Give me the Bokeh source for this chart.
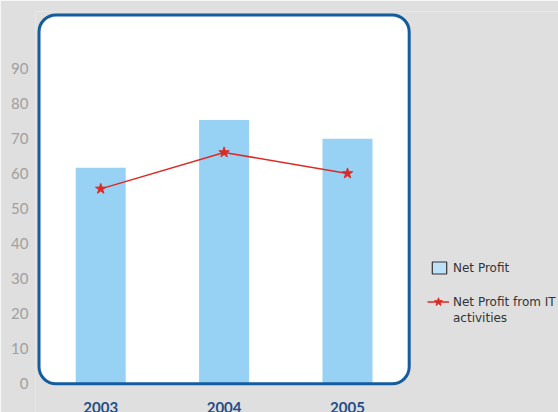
from bokeh.plotting import figure
from bokeh.models import (Range1d, FixedTicker, BoxAnnotation,
                          Legend, LegendItem, ColumnDataSource)
from bokeh.core.properties import value
from bokeh.embed import file_html
from bokeh.resources import INLINE

years = ["2003", "2004", "2005"]
net_profit = [61.7, 75.4, 70.0]
it_profit = [55.7, 66.1, 60.1]
y_ticks = [0, 10, 20, 30, 40, 50, 60, 70, 80, 90]
series_names = ["Net Profit", "Net Profit from IT", "activities"]

BG = "#dfdfdf"
BAR = "#97d1f3"
RED = "#dd2a25"
BORDER = "#155c9e"
PANEL_TOP = 105.4

xpos = [i + 0.5 for i in range(len(years))]
nan = float("nan")

p = figure(width=558, height=412, output_backend="svg", toolbar_location=None,
           x_range=Range1d(-0.0284, 4.21),
           y_range=Range1d(-8.2, 106.37),
           x_axis_location=None,
           min_border_left=35, min_border_right=0, min_border_top=11,
           min_border_bottom=0)
p.background_fill_color = BG
p.border_fill_color = BG
p.outline_line_color = None
p.grid.visible = False

# white rounded plot panel and its border
p.add_layout(BoxAnnotation(left=0, right=len(years), bottom=0, top=PANEL_TOP,
                           fill_color="white", fill_alpha=1,
                           line_color=None, border_radius=17, level="underlay"))
p.add_layout(BoxAnnotation(left=0, right=len(years), bottom=0, top=PANEL_TOP,
                           fill_alpha=0, fill_color=None,
                           line_color=BORDER, line_alpha=1, line_width=3,
                           border_radius=17, level="overlay"))

src = ColumnDataSource(dict(x=xpos, year=years, net=net_profit, it=it_profit))
bars = p.vbar(x="x", top="net", width=0.405, source=src, fill_color=BAR,
              line_color=None)
line = p.line(x="x", y="it", source=src, line_color=RED, line_width=1.5)
stars = p.scatter(x="x", y="it", source=src, marker="star", size=11,
                  fill_color=RED, line_color=RED)

# x labels as text under the panel
p.text(x="x", y=0, text="year", source=src, y_offset=18, text_baseline="top",
       text_align="center", text_font=value("Lato"), text_font_style="bold",
       text_font_size="15px", text_color="#1f4e86")

ax = p.yaxis[0]
ax.ticker = FixedTicker(ticks=y_ticks)
ax.axis_line_color = None
ax.major_tick_line_color = None
ax.minor_tick_line_color = None
ax.major_tick_out = 0
ax.major_tick_in = 0
ax.major_label_standoff = 7
ax.major_label_text_font = "Lato"
ax.major_label_text_font_size = "15px"
ax.major_label_text_color = "#a0a0a0"

# legend proxies (not drawn in the plot)
proxy_src = ColumnDataSource(dict(x=[nan], top=[nan]))
bar_proxy = p.vbar(x="x", top="top", width=0.4, source=proxy_src,
                   fill_color="#bde1f7", line_color="#333333", line_width=1.2)
blank_proxy = p.line(x="x", y="top", source=proxy_src, line_alpha=0)

common = dict(padding=0, margin=0, border_line_color=None, background_fill_alpha=0,
              label_text_font="DejaVu Sans", label_text_font_size="12px",
              label_text_color="#333333", label_height=15, spacing=0)
leg1 = Legend(items=[LegendItem(label=series_names[0], renderers=[bar_proxy])],
              location=(395, 137), glyph_width=18, glyph_height=15,
              label_standoff=5, **common)
leg2 = Legend(items=[LegendItem(label=series_names[1], renderers=[line, stars])],
              location=(392, 100), glyph_width=22, glyph_height=21,
              label_standoff=4, **common)
leg3 = Legend(items=[LegendItem(label=series_names[2], renderers=[blank_proxy])],
              location=(392, 87), glyph_width=22, glyph_height=15,
              label_standoff=4, **common)
for lg in (leg1, leg2, leg3):
    p.add_layout(lg, "center")

open("out.html", "w").write(file_html(p, INLINE))
